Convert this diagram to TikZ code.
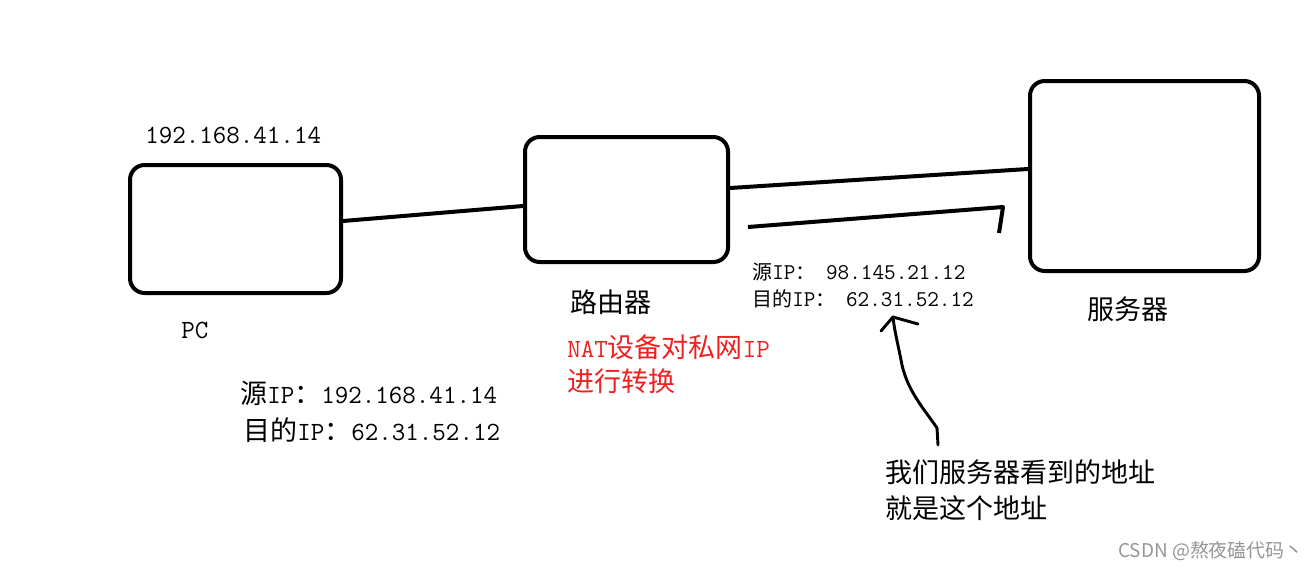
\documentclass[tikz,border=0pt]{standalone}
\usepackage{fontspec}
\newfontfamily\cjk{Noto Sans CJK SC}
\usetikzlibrary{calc}
\newcommand\Zh[1]{{\cjk\fontsize{20.25pt}{24pt}\selectfont #1}}
\newcommand\zh[1]{{\cjk\fontsize{15pt}{18pt}\selectfont #1}}
\definecolor{natred}{RGB}{240,32,32}
\definecolor{wmgray}{RGB}{150,150,150}
\tikzset{
  devbox/.style={draw, line width=3pt, rounded corners=11pt, inner sep=0pt},
  wire/.style={line width=3pt},
  bigtxt/.style={font=\ttfamily\fontsize{19.7pt}{22pt}\selectfont, anchor=west, inner sep=0pt},
  smalltxt/.style={font=\ttfamily\fontsize{16.9pt}{19pt}\selectfont, anchor=west, inner sep=0pt},
  pen/.style={line width=2.2pt, line cap=round, line join=round},
}
\begin{document}
\begin{tikzpicture}[x=0.75pt, y=-0.75pt]
\useasboundingbox[fill=white] (0,0) rectangle (1316,571);

% devices
\node[devbox, minimum width=158.25pt, minimum height=96pt] (pc) at (235.5,229) {};
\node[devbox, minimum width=152.25pt, minimum height=93.75pt] (router) at (626.5,199.5) {};
\node[devbox, minimum width=171.75pt, minimum height=142.5pt] (server) at (1144.5,176) {};

% wires
\draw[wire] ($(pc.east)+(0,-8)$) -- ($(router.west)+(0,6.5)$);
\draw[wire] ($(router.east)+(0,-11.5)$) -- ($(server.west)+(0,-7)$);

% return line
\coordinate (r1) at (748,227);
\coordinate (r2) at (1003,207);
\coordinate (r3) at (999,233);
\draw[wire, line join=round] (r1) -- (r2) -- (r3);

% labels
\node[bigtxt] (pcip) at (145,135) {192.168.41.14};
\node[bigtxt] (pclbl) at (181,330) {PC};
\node[bigtxt] (src1) at (240,393) {\Zh{源}IP\Zh{：}192.168.41.14};
\node[bigtxt] (dst1) at (243,430) {\Zh{目的}IP\Zh{：}62.31.52.12};
\node[bigtxt] (rlbl) at (570,302) {\Zh{路由器}};
\node[bigtxt, text=natred] (nat1) at (567,347) {NAT\Zh{设备对私网}IP};
\node[bigtxt, text=natred] (nat2) at (567,381) {\Zh{进行转换}};
\node[smalltxt] (src2) at (752,272) {\zh{源}IP\zh{：}\hspace{8pt}98.145.21.12};
\node[smalltxt] (dst2) at (752,299) {\zh{目的}IP\zh{：}\hspace{8pt}62.31.52.12};
\node[bigtxt] (slbl) at (1087,309) {\Zh{服务器}};
\node[bigtxt] (note1) at (885,472) {\Zh{我们服务器看到的地址}};
\node[bigtxt] (note2) at (885,508) {\Zh{就是这个地址}};
\node[anchor=west, inner sep=0pt, text=wmgray, font=\cjk\fontsize{14.2pt}{16pt}\selectfont] (wm) at (1118,551) {CSDN @熬夜磕代码丶};

% hand-drawn arrow
\coordinate (a0) at (938,445);
\coordinate (a1) at (893,317);
\draw[pen] (a0) -- (937,428) .. controls (925,410) and (906,390) .. (901,360) .. controls (897,340) and (894,328) .. (a1);
\draw[pen] (881,331) -- (a1) -- (918,324);
\end{tikzpicture}
\end{document}
